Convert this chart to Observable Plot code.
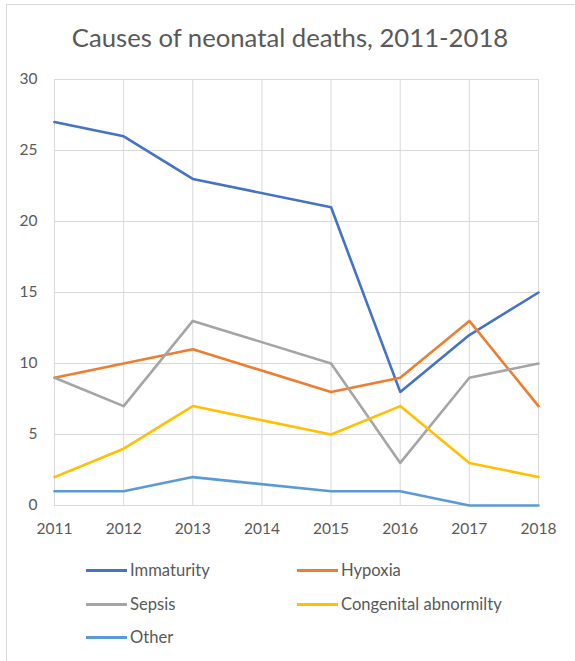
<!DOCTYPE html>
<html>
<head>
<meta charset="utf-8">
<script src="https://cdn.jsdelivr.net/npm/d3@7"></script>
<script src="https://cdn.jsdelivr.net/npm/@observablehq/plot@0.6"></script>
<style>
  html, body { margin: 0; padding: 0; background: #fff; }
  body { width: 575px; height: 661px; position: relative; overflow: hidden; font-family: Lato, "Open Sans", sans-serif; color: #595959; }
  #frame { position: absolute; left: 6px; top: 4px; width: 640px; height: 720px; border-left: 1px solid #d9d9d9; border-top: 1px solid #d9d9d9; }
  #title { position: absolute; left: 0; width: 580px; top: 22px; text-align: center; font-size: 25.7px; white-space: nowrap; }
  #chart { position: absolute; left: 0; top: 60px; }
  #legend { position: absolute; left: 0; top: 0; width: 575px; height: 661px; pointer-events: none; }
  .item { position: absolute; display: flex; align-items: center; font-size: 16.6px; white-space: nowrap; }
  .swatch { width: 41px; height: 3px; margin-right: 3px; }
</style>
</head>
<body>
<div id="frame"></div>
<div id="title">Causes of neonatal deaths, 2011-2018</div>
<div id="chart"></div>
<div id="legend"></div>
<script>
// Neonatal deaths by cause; 2014 has no recorded values, so lines join 2013 to 2015.
const years = [2011, 2012, 2013, 2014, 2015, 2016, 2017, 2018];
const causes = ["Immaturity", "Hypoxia", "Sepsis", "Congenital abnormilty", "Other"];
const immaturity = [27, 26, 23, null, 21, 8, 12, 15];
const hypoxia = [9, 10, 11, null, 8, 9, 13, 7];
const sepsis = [9, 7, 13, null, 10, 3, 9, 10];
const congenital = [2, 4, 7, null, 5, 7, 3, 2];
const other = [1, 1, 2, null, 1, 1, 0, 0];
const yTicks = [0, 5, 10, 15, 20, 25, 30];
const colors = ["#4472C4", "#ED7D31", "#A5A5A5", "#FFC000", "#5B9BD5"];

const seriesValues = [immaturity, hypoxia, sepsis, congenital, other];
const rows = causes.flatMap((cause, k) =>
  years.map((year, i) => ({ year, cause, value: seriesValues[k][i] }))
       .filter(d => d.value != null)
);

const chart = Plot.plot({
  width: 575,
  height: 490,
  marginTop: 19,
  marginBottom: 45,
  marginLeft: 54,
  marginRight: 37,
  style: { fontFamily: "Lato, 'Open Sans', sans-serif", fontSize: "15.5px", color: "#595959", background: "transparent" },
  x: { domain: [2011, 2018] },
  y: { domain: [0, 30] },
  color: { domain: causes, range: colors },
  marks: [
    Plot.gridX(years, { stroke: "#d9d9d9", strokeOpacity: 1, strokeWidth: 1 }),
    Plot.gridY(yTicks, { stroke: "#d9d9d9", strokeOpacity: 1, strokeWidth: 1 }),
    Plot.axisX(years, { tickFormat: "d", tickSize: 0, tickPadding: 17, label: null, fill: "#595959" }),
    Plot.axisY(yTicks, { tickSize: 0, tickPadding: 17, label: null, fill: "#595959" }),
    Plot.line(rows, { x: "year", y: "value", z: "cause", stroke: "cause", strokeWidth: 2.6, strokeLinejoin: "round", strokeLinecap: "round" })
  ]
});
document.getElementById("chart").appendChild(chart);

// Legend laid out in two columns below the plot
const legendPos = [
  { left: 86, top: 570 }, { left: 297, top: 570 },
  { left: 86, top: 604 }, { left: 297, top: 604 },
  { left: 86, top: 637 }
];
const legend = document.getElementById("legend");
causes.forEach((c, i) => {
  const el = document.createElement("div");
  el.className = "item";
  el.style.left = legendPos[i].left + "px";
  el.style.top = (legendPos[i].top - 10) + "px";
  el.style.height = "20px";
  const sw = document.createElement("span");
  sw.className = "swatch";
  sw.style.background = colors[i];
  const label = document.createElement("span");
  label.textContent = c;
  el.appendChild(sw);
  el.appendChild(label);
  legend.appendChild(el);
});
</script>
</body>
</html>
